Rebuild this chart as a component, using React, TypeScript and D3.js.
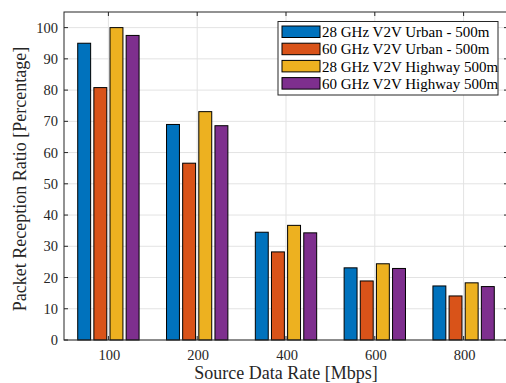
import { useMemo } from 'react';
import * as d3 from 'd3';

// Source data rate categories and packet reception ratio per scenario
const RATES = ['100', '200', '400', '600', '800'];
const URBAN_28 = [95.0, 69.0, 34.5, 23.1, 17.3];
const URBAN_60 = [80.8, 56.6, 28.2, 18.9, 14.1];
const HIGHWAY_28 = [100.0, 73.1, 36.7, 24.4, 18.3];
const HIGHWAY_60 = [97.5, 68.6, 34.3, 22.9, 17.1];
const SERIES_NAMES = [
  '28 GHz V2V Urban - 500m',
  '60 GHz V2V Urban - 500m',
  '28 GHz V2V Highway 500m',
  '60 GHz V2V Highway 500m',
];
const Y_TICKS = [0, 10, 20, 30, 40, 50, 60, 70, 80, 90, 100];

const COLORS = ['#0072BD', '#D95319', '#EDB120', '#7E2F8E'];
const SERIF = { fontFamily: "'Liberation Serif'" };
const AXIS = '#262626';

const W = 506;
const H = 383;
const M = { left: 64, right: 508, top: 12, bottom: 340 };

export default function App() {
  const series = [URBAN_28, URBAN_60, HIGHWAY_28, HIGHWAY_60];

  const x = useMemo(() => d3.scaleLinear().domain([0.5, 5.5]).range([M.left, M.right]), []);
  const y = useMemo(() => d3.scaleLinear().domain([0, 105]).range([M.bottom, M.top]), []);

  // MATLAB style grouped bars
  const groupWidth = Math.min(0.8, 4 / (4 + 1.5));
  const step = groupWidth / 4;
  const barW = step * 0.8;

  return (
    <svg width={W} height={H} style={{ position: 'absolute', left: 0, top: 0, background: '#fff' }}>
      <rect x={M.left} y={M.top} width={M.right - M.left} height={M.bottom - M.top} fill="#fff" />
      {/* grid */}
      {Y_TICKS.map(t => (
        <line key={'gy' + t} x1={M.left} x2={M.right} y1={y(t)} y2={y(t)} stroke="#e3e3e3" strokeWidth={1} />
      ))}
      {RATES.map((r, i) => (
        <line key={'gx' + r} x1={x(i + 1)} x2={x(i + 1)} y1={M.top} y2={M.bottom} stroke="#e3e3e3" strokeWidth={1} />
      ))}
      {/* bars */}
      {series.map((vals, s) => vals.map((v, i) => {
        const cx = i + 1 - groupWidth / 2 + step * (s + 0.5);
        return (
          <rect key={`b${s}-${i}`} x={x(cx - barW / 2)} y={y(v)}
            width={x(cx + barW / 2) - x(cx - barW / 2)} height={y(0) - y(v)}
            fill={COLORS[s]} stroke="#000" strokeWidth={1} />
        );
      }))}
      {/* box */}
      <rect x={M.left} y={M.top} width={M.right - M.left} height={M.bottom - M.top}
        fill="none" stroke={AXIS} strokeWidth={1} />
      {/* y ticks */}
      {Y_TICKS.map(t => (
        <g key={'ty' + t}>
          <line x1={M.left} x2={M.left + 4} y1={y(t)} y2={y(t)} stroke={AXIS} />
          <line x1={M.right} x2={M.right - 4} y1={y(t)} y2={y(t)} stroke={AXIS} />
          <text x={M.left - 6} y={y(t)} dy="0.35em" textAnchor="end" fontSize={14.5} fill={AXIS} style={SERIF}>{t}</text>
        </g>
      ))}
      {RATES.map((r, i) => (
        <g key={'tx' + r}>
          <line x1={x(i + 1)} x2={x(i + 1)} y1={M.bottom} y2={M.bottom - 4} stroke={AXIS} />
          <line x1={x(i + 1)} x2={x(i + 1)} y1={M.top} y2={M.top + 4} stroke={AXIS} />
          <text x={x(i + 1) + 1} y={M.bottom + 20} textAnchor="middle" fontSize={14.5} fill={AXIS} style={SERIF}>{r}</text>
        </g>
      ))}
      <text x={286} y={379} textAnchor="middle" fontSize={18} fill={AXIS} style={SERIF}>
        Source Data Rate [Mbps]
      </text>
      <text transform={`translate(26,${(M.top + M.bottom) / 2 + 3}) rotate(-90)`} textAnchor="middle"
        fontSize={18} fill={AXIS} style={SERIF}>
        Packet Reception Ratio [Percentage]
      </text>
      {/* legend */}
      <rect x={278} y={21.5} width={220} height={73.5} fill="#fff" stroke={AXIS} strokeWidth={1} />
      {SERIES_NAMES.map((name, s) => (
        <g key={'lg' + s}>
          <rect x={282} y={26 + s * 17.2} width={38} height={11.5} fill={COLORS[s]} stroke="#000" strokeWidth={1} />
          <text x={322} y={32 + s * 17.2} dy="0.35em" fontSize={15} fill="#000" style={SERIF}>{name}</text>
        </g>
      ))}
    </svg>
  );
}
